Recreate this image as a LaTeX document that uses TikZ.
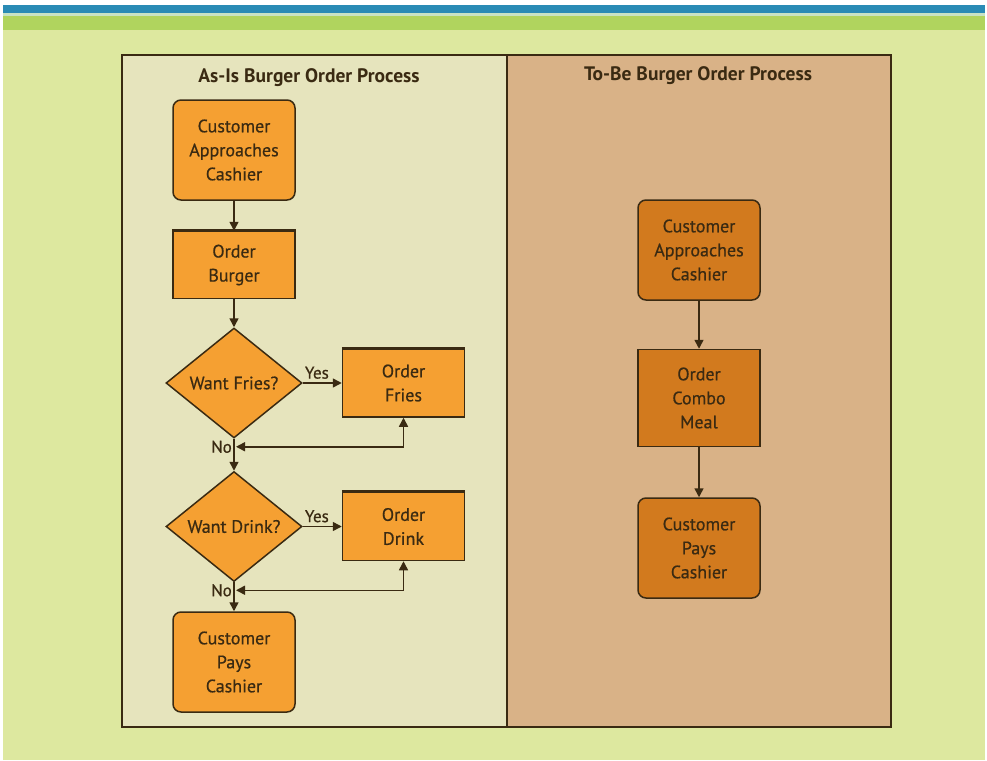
\documentclass[tikz,border=0pt]{standalone}
\usepackage{fontspec}
\setmainfont{PT Sans}
\newfontfamily\boxfont[FakeBold=0.6]{PT Sans}
\usetikzlibrary{positioning,shapes.geometric,arrows.meta}

\definecolor{ink}{HTML}{3A2A12}
\definecolor{barblue}{HTML}{2A8BB5}
\definecolor{barpale}{HTML}{C9E3C4}
\definecolor{bargreen}{HTML}{B0D45E}
\definecolor{slide}{HTML}{DDE89F}
\definecolor{asisbg}{HTML}{E6E4BD}
\definecolor{tobebg}{HTML}{D9B287}
\definecolor{lightorange}{HTML}{F5A032}
\definecolor{darkorange}{HTML}{D27A1E}

\begin{document}
\begin{tikzpicture}
  [
      x=1pt, y=-1pt,
      every node/.style={font=\boxfont\fontsize{18}{24}\selectfont, text=ink},
      panel/.style={rectangle, draw=ink, line width=1.5pt, minimum width=385pt, minimum height=672pt, inner sep=0pt},
      heading/.style={font=\bfseries\fontsize{19.5}{22}\selectfont},
      proc/.style={rectangle, draw=ink, line width=1.5pt, fill=#1, align=center, minimum width=122pt, inner sep=0pt},
      roundproc/.style={proc=#1, rounded corners=8pt, minimum height=100pt},
      decide/.style={diamond, draw=ink, line width=1.5pt, fill=lightorange, minimum width=136pt, minimum height=110pt, inner sep=0pt},
      flow/.style={draw=ink, line width=1.5pt, -{Triangle[length=9pt,width=9pt]}},
      answer/.style={font=\boxfont\fontsize{17}{18}\selectfont, inner sep=2pt},
    ]
    \useasboundingbox (0,0) rectangle (987,760);

    % slide background and header bars
    \fill [white] (0,0) rectangle (987,760);
    \fill [slide] (3,30) rectangle (985,760);
    \fill [barblue] (3,5) rectangle (985,13);
    \fill [barpale] (3,13) rectangle (985,16);
    \fill [bargreen] (3,16) rectangle (985,30);

    % the two process panels
    \node (asis) [panel, fill=asisbg] at (314.5,391) {};
    \node (tobe) [panel, fill=tobebg, minimum width=384pt] at (699,391) {};
    \node [heading] at (309,78) {As-Is Burger Order Process};
    \node [heading] at (698,76) {To-Be Burger Order Process};

    % as-is process
    \node (a1) [roundproc=lightorange] at (234,150) {Customer\\Approaches\\Cashier};
    \node (a2) [proc=lightorange, minimum height=67pt, below=30pt of a1] {Order\\Burger};
    \node (q1) [decide, below=28pt of a2] {Want Fries?};
    \node (f1) [proc=lightorange, minimum height=68pt, right=39pt of q1] {Order\\Fries};
    \coordinate [below=8pt of q1] (m1);
    \node (q2) [decide, below=32pt of q1] {Want Drink?};
    \node (d1) [proc=lightorange, minimum height=68pt, right=39pt of q2] {Order\\Drink};
    \coordinate [below=8pt of q2] (m2);
    \node (a3) [roundproc=lightorange, below=29pt of q2] {Customer\\Pays\\Cashier};

    \foreach \i/\j in {a1/a2,a2/q1,q1/q2,q2/a3,q1/f1,q2/d1}
      \draw [flow] (\i) -- (\j);
    \foreach \i/\j in {f1/m1,d1/m2}
      \draw [flow, {Triangle[length=9pt,width=9pt]}-{Triangle[length=9pt,width=9pt]}] (\i.south) |- ([xshift=2pt]\j);

    % heavier top edge on the square boxes
    \foreach \n in {a2,f1,d1}
      \draw [ink, line width=3pt] (\n.north west) -- (\n.north east);

    \node [answer, above right, yshift=2pt] at (q1.east) {Yes};
    \node [answer, above right, yshift=2pt] at (q2.east) {Yes};
    \node [answer, left] at (m1) {No};
    \node [answer, left] at (m2) {No};

    % to-be process
    \node (b1) [roundproc=darkorange] at (699,250) {Customer\\Approaches\\Cashier};
    \node (b2) [proc=darkorange, minimum height=97pt, below=48pt of b1] {Order\\Combo\\Meal};
    \node (b3) [roundproc=darkorange, below=50pt of b2] {Customer\\Pays\\Cashier};
    \foreach \i/\j in {b1/b2,b2/b3}
      \draw [flow] (\i) -- (\j);
\end{tikzpicture}
\end{document}
